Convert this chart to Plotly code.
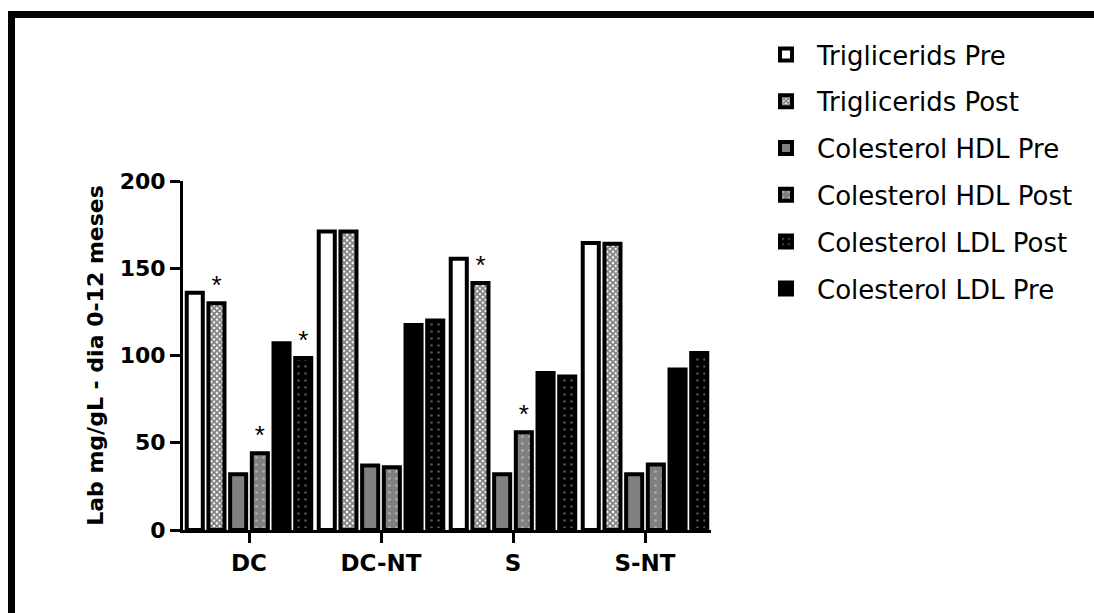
import plotly.graph_objects as go

categories = ["DC", "DC-NT", "S", "S-NT"]

trig_pre = [136, 171, 155.5, 164.5]
trig_post = [130, 171, 141.5, 164]
hdl_pre = [32, 37, 32, 32]
hdl_post = [44, 36, 56, 37.5]
ldl_pre = [107, 117.5, 90, 92]
ldl_post = [98.5, 120, 88, 101.5]

trig_post_sig = ["*", "", "*", ""]
hdl_post_sig = ["*", "", "*", ""]
ldl_post_sig = ["*", "", "", ""]

W, H = 1094, 613
L, R, T, B = 183, 711, 181, 530  # plot area in px

font_fam = "DejaVu Sans, Liberation Sans, Arial, sans-serif"
star_fam = "Liberation Sans, Arial, sans-serif"

def px_to_paper_x(px):
    return (px - L) / (R - L)

def px_to_paper_y(py):
    return (B - py) / (B - T)

fig = go.Figure()

series = [
    ("Triglicerids Pre", trig_pre, None, dict(color="white", line=dict(color="black", width=4)), 1),
    ("Triglicerids Post", trig_post, trig_post_sig,
     dict(color="white", line=dict(color="black", width=4),
          pattern=dict(shape="x", fgcolor="black", bgcolor="white", size=4, solidity=0.7)), 2),
    ("Colesterol HDL Pre", hdl_pre, None, dict(color="#808080", line=dict(color="black", width=4)), 3),
    ("Colesterol HDL Post", hdl_post, hdl_post_sig,
     dict(color="#808080", line=dict(color="black", width=4),
          pattern=dict(shape=".", fgcolor="#e0e0e0", bgcolor="#808080", size=7, solidity=0.12)), 4),
    ("Colesterol LDL Pre", ldl_pre, None, dict(color="black", line=dict(color="black", width=4)), 6),
    ("Colesterol LDL Post", ldl_post, ldl_post_sig,
     dict(color="black", line=dict(color="black", width=4),
          pattern=dict(shape=".", fgcolor="#a0a0a0", bgcolor="black", size=7, solidity=0.12)), 5),
]

for name, vals, sig, marker, rank in series:
    fig.add_trace(go.Bar(
        name=name, x=categories, y=vals, marker=marker,
        text=sig if sig else None,
        textposition="outside" if sig else None,
        textfont=dict(family=star_fam, size=26, color="#000000"),
        outsidetextfont=dict(family=star_fam, size=26, color="#000000"),
        cliponaxis=False,
        legendrank=rank, legendgroup=name,
    ))

fig.update_layout(
    width=W, height=H,
    margin=dict(l=L, r=W - R, t=T, b=H - B),
    paper_bgcolor="white", plot_bgcolor="white",
    barmode="group", bargap=0.014, bargroupgap=0.26,
    font=dict(family=font_fam, color="black"),
    showlegend=True,
    legend=dict(
        x=px_to_paper_x(755), y=px_to_paper_y(31), xanchor="left", yanchor="top",
        font=dict(family=font_fam, size=26, color="black"),
        tracegroupgap=10, itemwidth=52, bgcolor="rgba(0,0,0,0)",
    ),
    xaxis=dict(
        range=[-0.5, 3.5], showline=True, linecolor="black", linewidth=3,
        ticks="outside", ticklen=10, tickwidth=3, tickcolor="black",
        tickfont=dict(family=font_fam, size=23, color="black", weight="bold"),
        showgrid=False, zeroline=False,
    ),
    yaxis=dict(
        range=[0, 200], tickvals=[0, 50, 100, 150, 200],
        showline=True, linecolor="black", linewidth=3,
        ticks="outside", ticklen=10, tickwidth=3, tickcolor="black",
        tickfont=dict(family=font_fam, size=22, color="black", weight="bold"),
        showgrid=False, zeroline=False,
        title=dict(text="Lab mg/gL - dia 0-12 meses", standoff=10,
                   font=dict(family=font_fam, size=22, color="black", weight="bold")),
    ),
    shapes=[dict(
        type="rect", xref="paper", yref="paper",
        x0=px_to_paper_x(11.5), x1=px_to_paper_x(1110),
        y0=px_to_paper_y(630), y1=px_to_paper_y(14.5),
        line=dict(color="black", width=7), fillcolor="rgba(0,0,0,0)", layer="below",
    )],
)

fig.write_html("out.html")
